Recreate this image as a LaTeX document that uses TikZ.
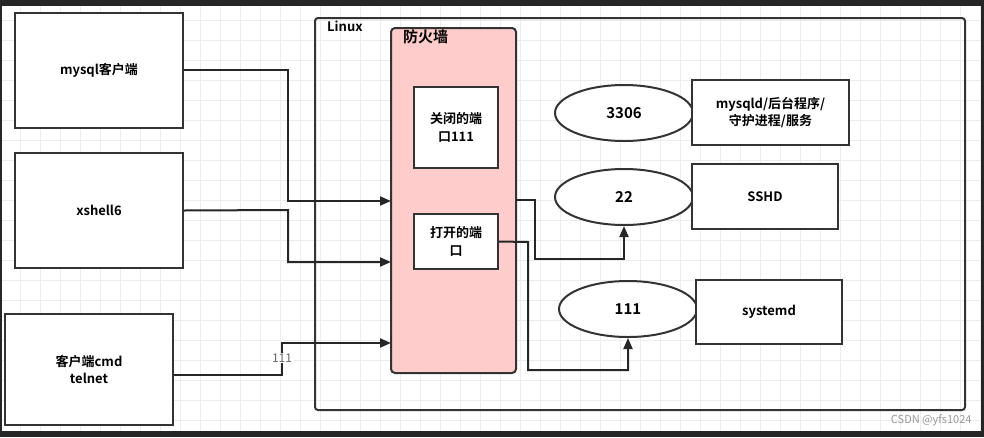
\documentclass[tikz,border=0pt]{standalone}
\usepackage{fontspec}
\setmainfont{Noto Sans CJK SC}[BoldFont={Noto Sans CJK SC Bold}]
\usetikzlibrary{shapes.geometric,arrows.meta}
\begin{document}
\begin{tikzpicture}[x=1pt,y=-1pt,
  box/.style={draw=black!80,line width=2pt,fill=white,align=center,font=\bfseries\fontsize{13}{17}\selectfont},
  ell/.style={ellipse,draw=black!80,line width=2pt,fill=white,minimum width=138pt,minimum height=56pt,inner sep=0pt,font=\bfseries\fontsize{15}{17}\selectfont},
  con/.style={draw=black!85,line width=2pt,-{Triangle[length=11pt,width=9pt]}},
  lbl/.style={font=\bfseries\fontsize{13}{15}\selectfont,anchor=north west,inner sep=0pt}]
\useasboundingbox (0,0) rectangle (984,437);
\fill[black!85] (0,0) rectangle (984,437);
\fill[white] (2,6) rectangle (980,431);
\foreach \x in {20,40,...,980} \draw[black!7] (\x,6) -- (\x,431);
\foreach \y in {20,40,...,420} \draw[black!7] (2,\y) -- (980,\y);
% clients
\node[box,minimum width=168pt,minimum height=115pt] (mc) at (99,70.5) {mysql客户端};
\node[box,minimum width=168pt,minimum height=115pt] (xs) at (99,210.5) {xshell6};
\node[box,minimum width=168pt,minimum height=111pt] (tn) at (89,369.5) {客户端cmd\\telnet};
% linux
\draw[black!80,line width=2pt,rounded corners=3pt] (315,18) rectangle (965,410);
\node[lbl] at (327,21) {Linux};
\draw[black!80,line width=2pt,rounded corners=4pt,fill={rgb,255:red,255;green,204;blue,204}] (391,28) rectangle (516,373);
\node[lbl,font=\bfseries\fontsize{15}{17}\selectfont] at (403,29) {防火墙};
\coordinate (fw1) at (391,201);
\coordinate (fw2) at (391,262);
\coordinate (fw3) at (391,343);
\coordinate (fwo) at (516,200);
\node[box,minimum width=84pt,minimum height=81pt,font=\bfseries\fontsize{13}{18}\selectfont] (cp) at (456,127.5) {关闭的端\\口111};
\node[box,minimum width=84pt,minimum height=55pt,font=\bfseries\fontsize{13}{18}\selectfont] (op) at (456,241.5) {打开的端\\口};
% ports
\node[ell] (p3306) at (624,113) {3306};
\node[ell] (p22) at (624,197) {22};
\node[ell] (p111) at (628,309) {111};
\node[box,minimum width=157pt,minimum height=65pt] (md) at (770.5,112.5) {mysqld/后台程序/\\守护进程/服务};
\node[box,minimum width=146pt,minimum height=65pt] (sshd) at (765,196.5) {SSHD};
\node[box,minimum width=146pt,minimum height=64pt] (sd) at (769,312) {systemd};
% connectors
\draw[con] (mc.east |- 0,70) -- (288,70) -- (288,201) -- (fw1);
\draw[con] (xs.east) -- (288,210) -- (288,262) -- (fw2);
\draw[con] (tn.east |- 0,375) -- (282,375) -- (282,343) -- (fw3);
\node[fill=white,inner sep=1pt,font=\fontsize{12}{14}\selectfont,text=black!60] at (282,358) {111};
\draw[con] (fwo) -- (535,200) -- (535,259) -- (624,259) -- (p22.south);
\draw[con] (op.east) -- (528,242) -- (528,370) -- (628,370) -- (p111.south);
\node[text=black!40,font=\fontsize{11}{13}\selectfont,anchor=south east] at (975,430) {CSDN @yfs1024};
\end{tikzpicture}
\end{document}
